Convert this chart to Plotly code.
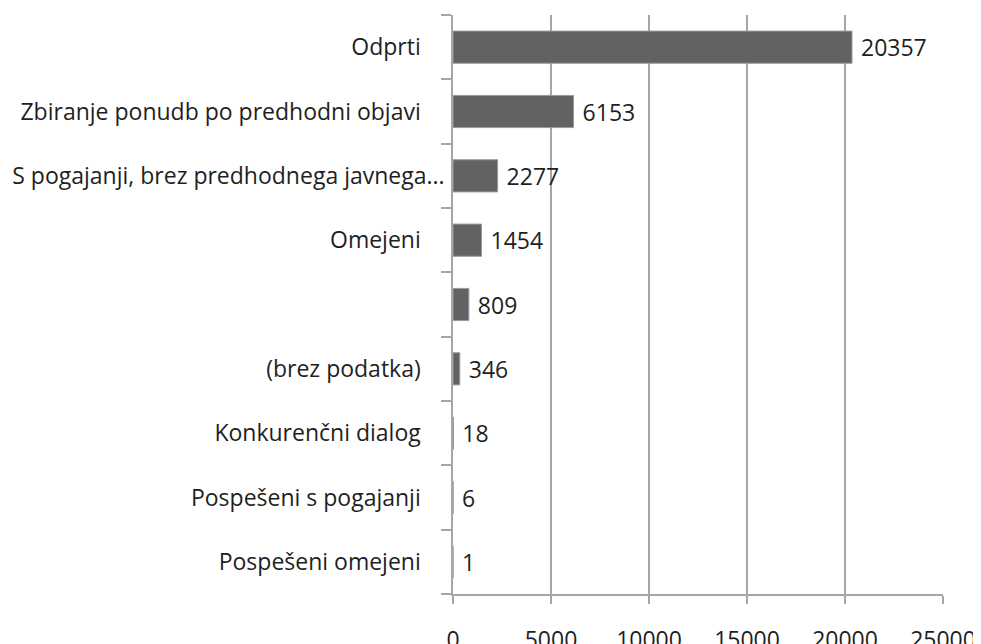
import plotly.graph_objects as go

NBSP = "\u00a0"

# categories from bottom to top (plotly draws the first category at the bottom)
categories = [
    "Pospešeni omejeni",
    "Pospešeni s pogajanji",
    "Konkurenčni dialog",
    "(brez podatka)",
    " ",
    "Omejeni",
    "S pogajanji, brez predhodnega javnega...",
    "Zbiranje ponudb po predhodni objavi",
    "Odprti",
]
counts = [1, 6, 18, 346, 809, 1454, 2277, 6153, 20357]
x_ticks = [0, 5000, 10000, 15000, 20000, 25000]

# Excel-style labels: full labels carry trailing spaces, truncated one does not
tick_text = [c if c.endswith("...") or not c.strip() else c + NBSP * 4 for c in categories]

FONT = "Open Sans"
FSIZE = 23
TEXT = "#1f1f1f"
GRID = "#a6a6a6"

fig = go.Figure(go.Bar(
    x=counts, y=categories, orientation="h",
    marker=dict(color="#646164", line=dict(color="#9a9a9a", width=1)),
    width=0.5,
    text=[str(v) for v in counts], texttemplate=NBSP + "%{text}", textposition="outside",
    textfont=dict(family=FONT, size=FSIZE, color=TEXT),
    cliponaxis=False,
))

# the page body adds an 8px offset, so margins are shifted to compensate
fig.update_layout(
    width=981, height=644,
    margin=dict(l=445, r=46, t=7, b=58),
    plot_bgcolor="white", paper_bgcolor="white",
    showlegend=False,
    font=dict(family=FONT, size=FSIZE, color=TEXT),
)
fig.update_xaxes(
    range=[0, 25000], tickvals=x_ticks, ticktext=[str(v) for v in x_ticks],
    showgrid=True, gridcolor=GRID, gridwidth=1.5,
    showline=True, linecolor=GRID, linewidth=1.5,
    ticks="outside", ticklen=8, tickcolor=GRID, tickwidth=1.5,
    ticklabelstandoff=17, automargin=False,
    zeroline=False, fixedrange=True,
)
fig.update_yaxes(
    type="category", categoryorder="array", categoryarray=categories,
    tickvals=categories, ticktext=tick_text,
    range=[-0.5, 8.5],
    showgrid=False, showline=True, linecolor=GRID, linewidth=1.5,
    ticks="outside", ticklen=10, tickcolor=GRID, tickwidth=1.5,
    tickson="boundaries", ticklabelstandoff=2, automargin=False,
    zeroline=False, fixedrange=True,
)

fig.write_html("out.html")
